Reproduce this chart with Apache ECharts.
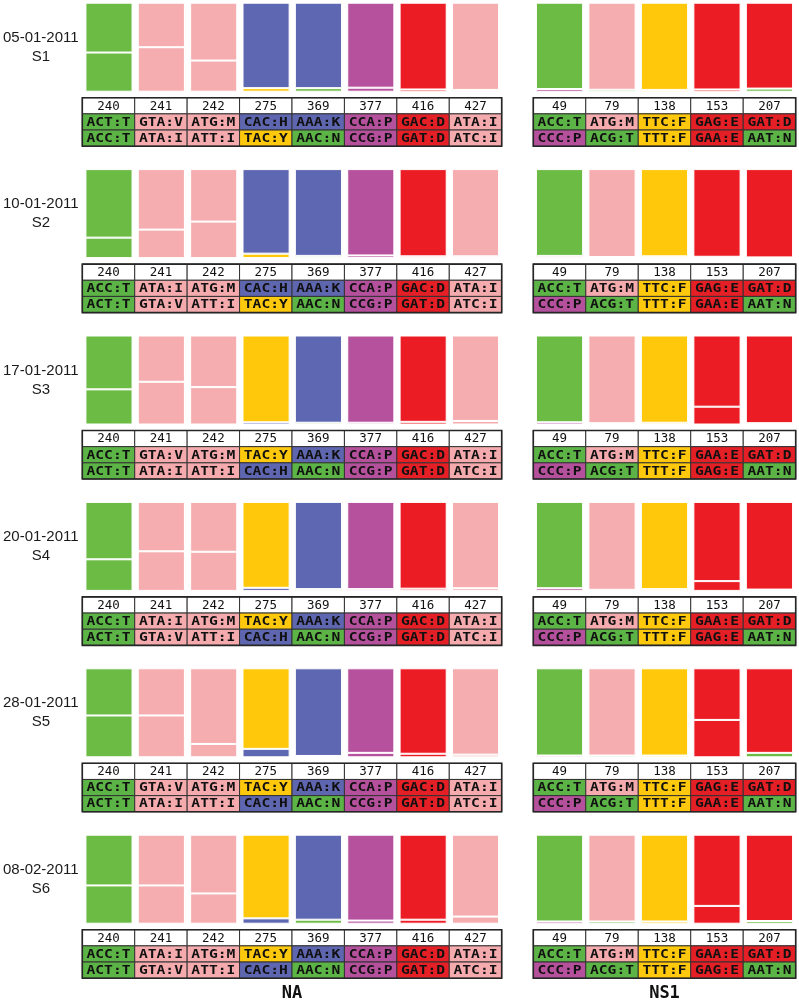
<!DOCTYPE html>
<html><head><meta charset="utf-8">
<script src="https://cdn.jsdelivr.net/npm/echarts@6/dist/echarts.min.js"></script>
<style>html,body{margin:0;padding:0;background:#fff}#c{width:799px;height:1004px}</style>
</head><body><div id="c"></div>
<script>
const dates = ['05-01-2011','10-01-2011','17-01-2011','20-01-2011','28-01-2011','08-02-2011'];
const samples = ['S1','S2','S3','S4','S5','S6'];
const naPositions = ['240','241','242','275','369','377','416','427'];
const ns1Positions = ['49','79','138','153','207'];

const naTopCodons = [
  ['ACT:T','GTA:V','ATG:M','CAC:H','AAA:K','CCA:P','GAC:D','ATA:I'],
  ['ACC:T','ATA:I','ATG:M','CAC:H','AAA:K','CCA:P','GAC:D','ATA:I'],
  ['ACC:T','GTA:V','ATG:M','TAC:Y','AAA:K','CCA:P','GAC:D','ATA:I'],
  ['ACC:T','ATA:I','ATG:M','TAC:Y','AAA:K','CCA:P','GAC:D','ATA:I'],
  ['ACC:T','GTA:V','ATG:M','TAC:Y','AAA:K','CCA:P','GAC:D','ATA:I'],
  ['ACC:T','ATA:I','ATG:M','TAC:Y','AAA:K','CCA:P','GAC:D','ATA:I']
];
const naBottomCodons = [
  ['ACC:T','ATA:I','ATT:I','TAC:Y','AAC:N','CCG:P','GAT:D','ATC:I'],
  ['ACT:T','GTA:V','ATT:I','TAC:Y','AAC:N','CCG:P','GAT:D','ATC:I'],
  ['ACT:T','ATA:I','ATT:I','CAC:H','AAC:N','CCG:P','GAT:D','ATC:I'],
  ['ACT:T','GTA:V','ATT:I','CAC:H','AAC:N','CCG:P','GAT:D','ATC:I'],
  ['ACT:T','ATA:I','ATT:I','CAC:H','AAC:N','CCG:P','GAT:D','ATC:I'],
  ['ACT:T','GTA:V','ATT:I','CAC:H','AAC:N','CCG:P','GAT:D','ATC:I']
];
const ns1TopCodons = [
  ['ACC:T','ATG:M','TTC:F','GAG:E','GAT:D'],
  ['ACC:T','ATG:M','TTC:F','GAG:E','GAT:D'],
  ['ACC:T','ATG:M','TTC:F','GAA:E','GAT:D'],
  ['ACC:T','ATG:M','TTC:F','GAA:E','GAT:D'],
  ['ACC:T','ATG:M','TTC:F','GAG:E','GAT:D'],
  ['ACC:T','ATG:M','TTC:F','GAA:E','GAT:D']
];
const ns1BottomCodons = [
  ['CCC:P','ACG:T','TTT:F','GAA:E','AAT:N'],
  ['CCC:P','ACG:T','TTT:F','GAA:E','AAT:N'],
  ['CCC:P','ACG:T','TTT:F','GAG:E','AAT:N'],
  ['CCC:P','ACG:T','TTT:F','GAG:E','AAT:N'],
  ['CCC:P','ACG:T','TTT:F','GAA:E','AAT:N'],
  ['CCC:P','ACG:T','TTT:F','GAG:E','AAT:N']
];
// frequency of the second-listed (lower) codon
const naBottomShare = [
  [0.44, 0.50, 0.35, 0.04, 0.04, 0.045, 0.025, 0.02],
  [0.23, 0.32, 0.41, 0.05, 0.025, 0.03, 0.02, 0.02],
  [0.395, 0.48, 0.42, 0.025, 0.02, 0.02, 0.03, 0.04],
  [0.355, 0.445, 0.44, 0.035, 0.02, 0.02, 0.025, 0.03],
  [0.47, 0.47, 0.15, 0.095, 0.015, 0.05, 0.04, 0.03],
  [0.43, 0.43, 0.34, 0.06, 0.045, 0.035, 0.045, 0.08]
];
const ns1BottomShare = [
  [0.03, 0.022, 0.02, 0.025, 0.035],
  [0.025, 0.012, 0.02, 0.015, 0.008],
  [0.025, 0.015, 0.02, 0.20, 0.015],
  [0.03, 0.012, 0.02, 0.11, 0.015],
  [0.02, 0.02, 0.02, 0.42, 0.05],
  [0.025, 0.025, 0.025, 0.20, 0.03]
];

const aaGroup = {T:'green',N:'green',V:'pink',I:'pink',M:'pink',H:'blue',K:'blue',Y:'yellow',F:'yellow',P:'purple',D:'red',E:'red'};
const barColors = {green:'#6cbb45',pink:'#f6adb0',blue:'#5e67b1',purple:'#b6529d',red:'#ec1c24',yellow:'#ffc80a'};
const cellColors = {green:'#5db446',pink:'#f5abae',blue:'#5f66b0',purple:'#b5519c',red:'#e41f26',yellow:'#fec80c'};
const groupOf = c => aaGroup[c.split(':')[1]];

const panels = [
  {positions: naPositions, top: naTopCodons, bottom: naBottomCodons, share: naBottomShare, left: 82.3, width: 419.4, name: 'NA'},
  {positions: ns1Positions, top: ns1TopCodons, bottom: ns1BottomCodons, share: ns1BottomShare, left: 533.3, width: 262.4, name: 'NS1'}
];

const grid = [], xAxis = [], yAxis = [], series = [];
const hide = {axisLine:{show:false}, axisTick:{show:false}, axisLabel:{show:false}, splitLine:{show:false}};

samples.forEach((s, i) => {
  const rowTop = 2.7 + 166.4 * i;
  panels.forEach((p, k) => {
    // bars
    const gb = grid.length;
    grid.push({left: p.left, width: p.width, top: rowTop, height: 89});
    xAxis.push(Object.assign({type:'category', gridIndex: gb, data: p.positions}, hide));
    const ya = {type:'value', gridIndex: gb, min: 0, max: 1};
    Object.assign(ya, hide);
    if (k === 0) {
      ya.name = dates[i] + '\n' + s;
      ya.nameLocation = 'middle';
      ya.nameRotate = 0;
      ya.nameGap = 42;
      ya.nameTextStyle = {align:'center', fontFamily:'"Liberation Sans", Arial, sans-serif', fontSize: 15, lineHeight: 19, color:'#1a1a1a', padding:[10,0,0,0]};
    }
    yAxis.push(ya);
    const stackId = 'st' + i + '_' + k;
    series.push({
      type:'bar', xAxisIndex: gb, yAxisIndex: gb, stack: stackId, barWidth:'90%', silent:true,
      itemStyle:{borderColor:'#fff', borderWidth:1},
      data: p.share[i].map((v, j) => ({value: v, itemStyle:{color: barColors[groupOf(p.bottom[i][j])]}}))
    });
    series.push({
      type:'bar', xAxisIndex: gb, yAxisIndex: gb, stack: stackId, barWidth:'90%', silent:true,
      itemStyle:{borderColor:'#fff', borderWidth:1},
      data: p.share[i].map((v, j) => ({value: 1 - v, itemStyle:{color: barColors[groupOf(p.top[i][j])]}}))
    });
    // table
    const gt = grid.length;
    grid.push({left: p.left, width: p.width, top: rowTop + 95, height: 48.5, show: true, borderColor:'#262626', borderWidth: 1.6, z: 10});
    const xa = Object.assign({type:'category', gridIndex: gt, data: p.positions}, hide);
    if (i === samples.length - 1) {
      xa.name = p.name;
      xa.nameLocation = 'middle';
      xa.nameGap = 7;
      xa.nameTextStyle = {fontFamily:'"DejaVu Sans Mono", monospace', fontWeight:'bold', fontSize:17, color:'#111'};
    }
    xAxis.push(xa);
    yAxis.push(Object.assign({type:'category', gridIndex: gt, inverse: true, data:['pos','first','second']}, hide));
    const cells = [];
    p.positions.forEach((pos, j) => {
      cells.push({x:j, y:0, text: pos, fill:'#fff', bold:false});
      cells.push({x:j, y:1, text: p.top[i][j], fill: cellColors[groupOf(p.top[i][j])], bold:true});
      cells.push({x:j, y:2, text: p.bottom[i][j], fill: cellColors[groupOf(p.bottom[i][j])], bold:true});
    });
    series.push({
      type:'custom', xAxisIndex: gt, yAxisIndex: gt, silent: true,
      encode:{x:0, y:1},
      data: cells.map(c => [c.x, c.y]),
      renderItem: function(params, api) {
        const c = cells[params.dataIndex];
        const pt = api.coord([api.value(0), api.value(1)]);
        const sz = api.size([1, 1]);
        return {type:'group', children:[
          {type:'rect', shape:{x: pt[0]-sz[0]/2, y: pt[1]-sz[1]/2, width: sz[0], height: sz[1]},
           style:{fill: c.fill, stroke:'#333', lineWidth: 1}},
          {type:'text', x: pt[0], y: pt[1] + 0.5, scaleX: c.bold ? 1.17 : 1,
           style:{text: c.text, align:'center', verticalAlign:'middle',
                  font: (c.bold ? 'bold ' : '') + '12.5px "DejaVu Sans Mono", monospace', fill:'#111'}}
        ]};
      }
    });
  });
});

const chart = echarts.init(document.getElementById('c'), null, {renderer:'canvas'});
chart.setOption({animation:false, backgroundColor:'#fff', grid, xAxis, yAxis, series});
</script>
</body></html>
